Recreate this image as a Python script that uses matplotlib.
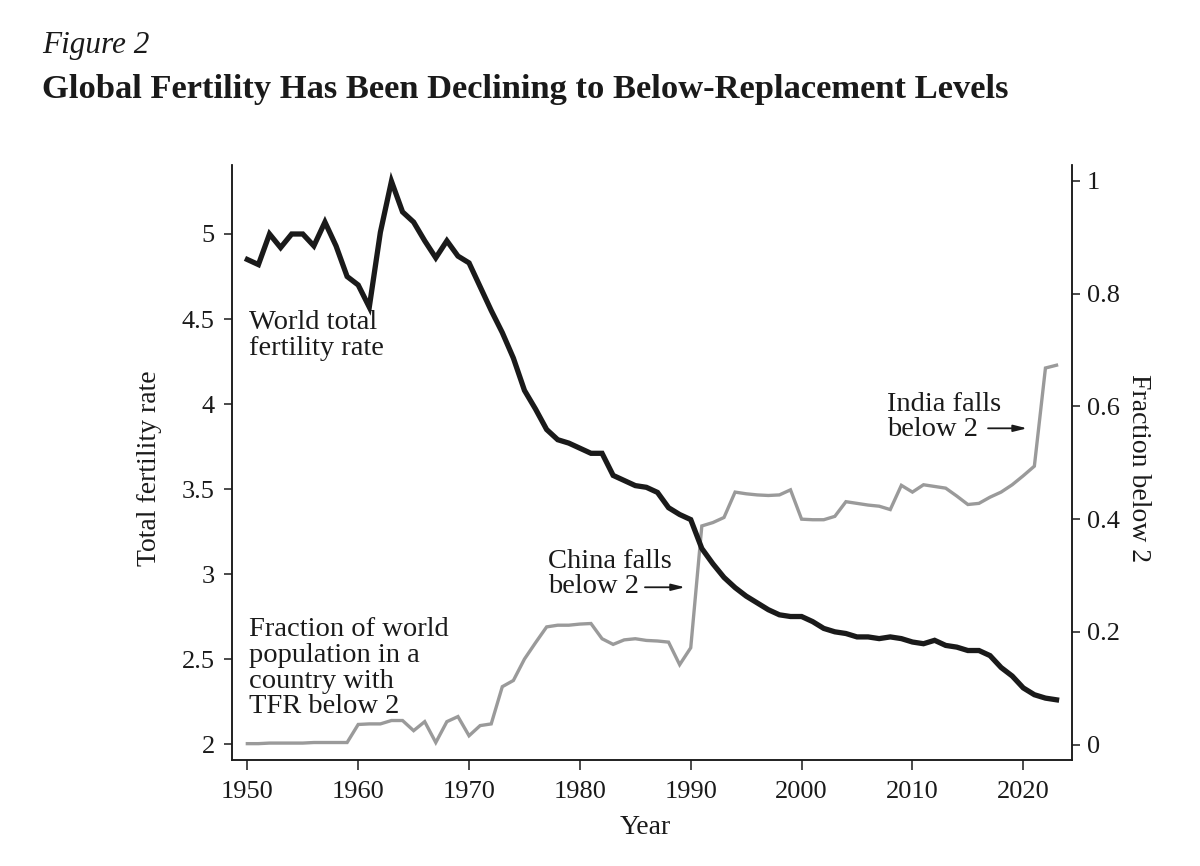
import matplotlib
matplotlib.use("Agg")
import matplotlib.pyplot as plt

plt.rcParams['font.family'] = ['Liberation Serif', 'DejaVu Serif']

years = list(range(1950, 2024))

# world total fertility rate (left axis)
tfr = [4.85, 4.82, 5.00, 4.92, 5.00, 5.00, 4.93, 5.07, 4.93, 4.75,
       4.70, 4.57, 5.01, 5.31, 5.13, 5.07, 4.96, 4.86, 4.96, 4.87,
       4.83, 4.69, 4.55, 4.42, 4.27, 4.08, 3.97, 3.85, 3.79, 3.77,
       3.74, 3.71, 3.71, 3.58, 3.55, 3.52, 3.51, 3.48, 3.39, 3.35,
       3.32, 3.15, 3.06, 2.98, 2.92, 2.87, 2.83, 2.79, 2.76, 2.75,
       2.75, 2.72, 2.68, 2.66, 2.65, 2.63, 2.63, 2.62, 2.63, 2.62,
       2.60, 2.59, 2.61, 2.58, 2.57, 2.55, 2.55, 2.52, 2.45, 2.40,
       2.33, 2.29, 2.27, 2.26]

# fraction of world population in a country with TFR below 2 (right axis)
frac = [0.002, 0.002, 0.003, 0.003, 0.003, 0.003, 0.004, 0.004, 0.004, 0.004,
        0.036, 0.037, 0.037, 0.043, 0.043, 0.025, 0.041, 0.004, 0.041, 0.050,
        0.016, 0.034, 0.037, 0.103, 0.114, 0.152, 0.181, 0.209, 0.212, 0.212,
        0.214, 0.215, 0.188, 0.178, 0.186, 0.188, 0.185, 0.184, 0.182, 0.142,
        0.172, 0.388, 0.394, 0.403, 0.448, 0.445, 0.443, 0.442, 0.443, 0.452,
        0.400, 0.399, 0.399, 0.405, 0.431, 0.428, 0.425, 0.423, 0.417, 0.460,
        0.448, 0.461, 0.458, 0.455, 0.441, 0.426, 0.428, 0.439, 0.448, 0.461,
        0.477, 0.494, 0.668, 0.673]

x_ticks = [1950, 1960, 1970, 1980, 1990, 2000, 2010, 2020]
left_ticks = [2, 2.5, 3, 3.5, 4, 4.5, 5]
left_labels = ['2', '2.5', '3', '3.5', '4', '4.5', '5']
right_ticks = [0, 0.2, 0.4, 0.6, 0.8, 1]
right_labels = ['0', '0.2', '0.4', '0.6', '0.8', '1']

fs = 19
note_fs = 20.5
ink = '#1a1a1a'

fig = plt.figure(figsize=(12, 8.66), dpi=100)
ax = fig.add_axes([0.1931, 0.1224, 0.7, 0.6871])
ax2 = ax.twinx()

ax2.plot(years, frac, color='#9a9a9a', lw=2.4, solid_joinstyle='miter', zorder=2)
ax.plot(years, tfr, color=ink, lw=3.8, solid_joinstyle='miter', zorder=3)
ax.set_zorder(ax2.get_zorder() + 1)
ax.patch.set_visible(False)

ax.set_xlim(1948.59, 2024.37)
ax.set_ylim(1.906, 5.406)
ax2.set_ylim(-0.027, 1.028)

ax.set_xticks(x_ticks)
ax.set_xticklabels([str(v) for v in x_ticks], fontsize=fs)
ax.set_yticks(left_ticks)
ax.set_yticklabels(left_labels, fontsize=fs)
ax2.set_yticks(right_ticks)
ax2.set_yticklabels(right_labels, fontsize=fs)

for a in (ax, ax2):
    a.spines['top'].set_visible(False)
    for s in a.spines.values():
        s.set_linewidth(1.1)
        s.set_color(ink)
ax.tick_params(axis='x', length=7.2, width=1.1, pad=8, colors=ink)
ax.tick_params(axis='y', length=5.8, width=1.1, pad=6.5, colors=ink)
ax2.tick_params(axis='y', length=5.8, width=1.1, pad=5, colors=ink)

fig.text(150 / 1200, 1 - 468 / 866, 'Total fertility rate', rotation=90,
         ha='center', va='center', fontsize=20, color=ink)
fig.text(1138 / 1200, 1 - 468 / 866, 'Fraction below 2', rotation=270,
         ha='center', va='center', fontsize=20, color=ink)
fig.text(645 / 1200, 1 - 828 / 866, 'Year', ha='center', va='center',
         fontsize=20, color=ink)

fig.text(42 / 1200, 1 - 53 / 866, 'Figure 2', style='italic',
         fontsize=22.5, ha='left', va='baseline', color=ink)
fig.text(42 / 1200, 1 - 98 / 866,
         'Global Fertility Has Been Declining to Below-Replacement Levels',
         fontweight='bold', fontsize=24.8, ha='left', va='baseline', color=ink)

# y of each note is the baseline of its last line
ax.text(1950.15, 4.291, 'World total\nfertility rate', fontsize=note_fs,
        ha='left', va='baseline', linespacing=1.03, color=ink)
ax.text(1950.15, 2.182, 'Fraction of world\npopulation in a\ncountry with\nTFR below 2',
        fontsize=note_fs, ha='left', va='baseline', linespacing=1.03, color=ink)
ax.text(1977.12, 2.887, 'China falls\nbelow 2', fontsize=note_fs,
        ha='left', va='baseline', linespacing=1.03, color=ink)
ax.text(2007.70, 3.810, 'India falls\nbelow 2', fontsize=note_fs,
        ha='left', va='baseline', linespacing=1.03, color=ink)

arrow = dict(arrowstyle='-|>,head_length=0.8,head_width=0.2', lw=1.3, color=ink,
             shrinkA=0, shrinkB=0)
ax.annotate('', xy=(1989.48, 2.922), xytext=(1985.87, 2.922), arrowprops=arrow)
ax.annotate('', xy=(2020.34, 3.857), xytext=(2016.82, 3.857), arrowprops=arrow)

fig.savefig('out.png', dpi=100, facecolor='white')
